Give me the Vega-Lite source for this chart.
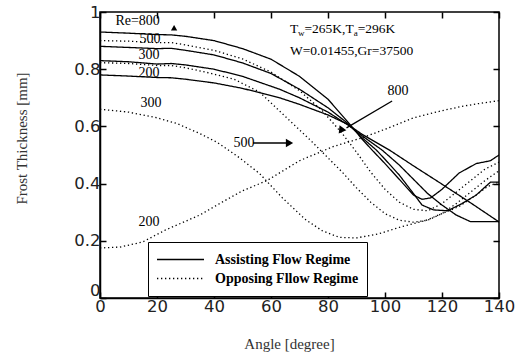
{
  "$schema": "https://vega.github.io/schema/vega-lite/v6.json",
  "width": 399,
  "height": 286,
  "autosize": {"type": "none"},
  "padding": {"left": 100, "top": 12, "right": 18, "bottom": 65},
  "background": "white",
  "config": {
    "view": {"stroke": "black", "strokeWidth": 1.5},
    "axis": {
      "grid": false,
      "domainColor": "black",
      "domainWidth": 1.5,
      "tickColor": "black",
      "tickWidth": 1.5,
      "tickSize": -6,
      "labelFont": "DejaVu Sans",
      "labelFontSize": 16.5,
      "labelColor": "#222",
      "titleFont": "Liberation Serif",
      "titleFontWeight": "normal",
      "titleFontSize": 15,
      "titleColor": "#333"
    }
  },
  "layer": [
    {
      "data": {
        "values": [
          {"regime": "Assisting Flow Regime", "re": 800, "x": 0, "y": 0.93},
          {"regime": "Assisting Flow Regime", "re": 800, "x": 10, "y": 0.926},
          {"regime": "Assisting Flow Regime", "re": 800, "x": 20, "y": 0.921},
          {"regime": "Assisting Flow Regime", "re": 800, "x": 25, "y": 0.92},
          {"regime": "Assisting Flow Regime", "re": 800, "x": 30, "y": 0.915},
          {"regime": "Assisting Flow Regime", "re": 800, "x": 40, "y": 0.9},
          {"regime": "Assisting Flow Regime", "re": 800, "x": 50, "y": 0.872},
          {"regime": "Assisting Flow Regime", "re": 800, "x": 60, "y": 0.835},
          {"regime": "Assisting Flow Regime", "re": 800, "x": 70, "y": 0.775},
          {"regime": "Assisting Flow Regime", "re": 800, "x": 80, "y": 0.695},
          {"regime": "Assisting Flow Regime", "re": 800, "x": 87, "y": 0.615},
          {"regime": "Assisting Flow Regime", "re": 800, "x": 92, "y": 0.555},
          {"regime": "Assisting Flow Regime", "re": 800, "x": 95.5, "y": 0.517},
          {"regime": "Assisting Flow Regime", "re": 800, "x": 100, "y": 0.47},
          {"regime": "Assisting Flow Regime", "re": 800, "x": 105, "y": 0.415},
          {"regime": "Assisting Flow Regime", "re": 800, "x": 110, "y": 0.36},
          {"regime": "Assisting Flow Regime", "re": 800, "x": 113, "y": 0.345},
          {"regime": "Assisting Flow Regime", "re": 800, "x": 116, "y": 0.35},
          {"regime": "Assisting Flow Regime", "re": 800, "x": 120, "y": 0.38},
          {"regime": "Assisting Flow Regime", "re": 800, "x": 126, "y": 0.437},
          {"regime": "Assisting Flow Regime", "re": 800, "x": 132, "y": 0.47},
          {"regime": "Assisting Flow Regime", "re": 800, "x": 137, "y": 0.48},
          {"regime": "Assisting Flow Regime", "re": 800, "x": 140, "y": 0.5},

          {"regime": "Assisting Flow Regime", "re": 500, "x": 0, "y": 0.88},
          {"regime": "Assisting Flow Regime", "re": 500, "x": 10, "y": 0.876},
          {"regime": "Assisting Flow Regime", "re": 500, "x": 20, "y": 0.872},
          {"regime": "Assisting Flow Regime", "re": 500, "x": 25, "y": 0.873},
          {"regime": "Assisting Flow Regime", "re": 500, "x": 30, "y": 0.866},
          {"regime": "Assisting Flow Regime", "re": 500, "x": 40, "y": 0.85},
          {"regime": "Assisting Flow Regime", "re": 500, "x": 50, "y": 0.822},
          {"regime": "Assisting Flow Regime", "re": 500, "x": 60, "y": 0.785},
          {"regime": "Assisting Flow Regime", "re": 500, "x": 70, "y": 0.73},
          {"regime": "Assisting Flow Regime", "re": 500, "x": 80, "y": 0.665},
          {"regime": "Assisting Flow Regime", "re": 500, "x": 87, "y": 0.61},
          {"regime": "Assisting Flow Regime", "re": 500, "x": 92, "y": 0.56},
          {"regime": "Assisting Flow Regime", "re": 500, "x": 97, "y": 0.517},
          {"regime": "Assisting Flow Regime", "re": 500, "x": 100, "y": 0.485},
          {"regime": "Assisting Flow Regime", "re": 500, "x": 105, "y": 0.43},
          {"regime": "Assisting Flow Regime", "re": 500, "x": 110, "y": 0.365},
          {"regime": "Assisting Flow Regime", "re": 500, "x": 113, "y": 0.325},
          {"regime": "Assisting Flow Regime", "re": 500, "x": 117, "y": 0.308},
          {"regime": "Assisting Flow Regime", "re": 500, "x": 122, "y": 0.305},
          {"regime": "Assisting Flow Regime", "re": 500, "x": 127, "y": 0.33},
          {"regime": "Assisting Flow Regime", "re": 500, "x": 132, "y": 0.36},
          {"regime": "Assisting Flow Regime", "re": 500, "x": 137, "y": 0.405},
          {"regime": "Assisting Flow Regime", "re": 500, "x": 140, "y": 0.405},

          {"regime": "Assisting Flow Regime", "re": 300, "x": 0, "y": 0.83},
          {"regime": "Assisting Flow Regime", "re": 300, "x": 10, "y": 0.826},
          {"regime": "Assisting Flow Regime", "re": 300, "x": 20, "y": 0.818},
          {"regime": "Assisting Flow Regime", "re": 300, "x": 25, "y": 0.82},
          {"regime": "Assisting Flow Regime", "re": 300, "x": 30, "y": 0.815},
          {"regime": "Assisting Flow Regime", "re": 300, "x": 40, "y": 0.8},
          {"regime": "Assisting Flow Regime", "re": 300, "x": 50, "y": 0.775},
          {"regime": "Assisting Flow Regime", "re": 300, "x": 63, "y": 0.73},
          {"regime": "Assisting Flow Regime", "re": 300, "x": 70, "y": 0.7},
          {"regime": "Assisting Flow Regime", "re": 300, "x": 80, "y": 0.65},
          {"regime": "Assisting Flow Regime", "re": 300, "x": 87, "y": 0.605},
          {"regime": "Assisting Flow Regime", "re": 300, "x": 92, "y": 0.567},
          {"regime": "Assisting Flow Regime", "re": 300, "x": 99, "y": 0.517},
          {"regime": "Assisting Flow Regime", "re": 300, "x": 105, "y": 0.465},
          {"regime": "Assisting Flow Regime", "re": 300, "x": 110, "y": 0.415},
          {"regime": "Assisting Flow Regime", "re": 300, "x": 115, "y": 0.365},
          {"regime": "Assisting Flow Regime", "re": 300, "x": 120, "y": 0.325},
          {"regime": "Assisting Flow Regime", "re": 300, "x": 125, "y": 0.29},
          {"regime": "Assisting Flow Regime", "re": 300, "x": 130, "y": 0.267},
          {"regime": "Assisting Flow Regime", "re": 300, "x": 140, "y": 0.267},

          {"regime": "Assisting Flow Regime", "re": 200, "x": 0, "y": 0.78},
          {"regime": "Assisting Flow Regime", "re": 200, "x": 10, "y": 0.776},
          {"regime": "Assisting Flow Regime", "re": 200, "x": 20, "y": 0.771},
          {"regime": "Assisting Flow Regime", "re": 200, "x": 25, "y": 0.77},
          {"regime": "Assisting Flow Regime", "re": 200, "x": 30, "y": 0.765},
          {"regime": "Assisting Flow Regime", "re": 200, "x": 40, "y": 0.752},
          {"regime": "Assisting Flow Regime", "re": 200, "x": 50, "y": 0.733},
          {"regime": "Assisting Flow Regime", "re": 200, "x": 63, "y": 0.7},
          {"regime": "Assisting Flow Regime", "re": 200, "x": 70, "y": 0.677},
          {"regime": "Assisting Flow Regime", "re": 200, "x": 80, "y": 0.64},
          {"regime": "Assisting Flow Regime", "re": 200, "x": 87, "y": 0.607},
          {"regime": "Assisting Flow Regime", "re": 200, "x": 92, "y": 0.572},
          {"regime": "Assisting Flow Regime", "re": 200, "x": 101.6, "y": 0.517},
          {"regime": "Assisting Flow Regime", "re": 200, "x": 110, "y": 0.462},
          {"regime": "Assisting Flow Regime", "re": 200, "x": 120, "y": 0.398},
          {"regime": "Assisting Flow Regime", "re": 200, "x": 130, "y": 0.333},
          {"regime": "Assisting Flow Regime", "re": 200, "x": 140, "y": 0.266},

          {"regime": "Opposing Fllow Regime", "re": 800, "x": 0, "y": 0.9},
          {"regime": "Opposing Fllow Regime", "re": 800, "x": 10, "y": 0.898},
          {"regime": "Opposing Fllow Regime", "re": 800, "x": 20, "y": 0.893},
          {"regime": "Opposing Fllow Regime", "re": 800, "x": 25, "y": 0.893},
          {"regime": "Opposing Fllow Regime", "re": 800, "x": 30, "y": 0.885},
          {"regime": "Opposing Fllow Regime", "re": 800, "x": 40, "y": 0.866},
          {"regime": "Opposing Fllow Regime", "re": 800, "x": 50, "y": 0.836},
          {"regime": "Opposing Fllow Regime", "re": 800, "x": 60, "y": 0.79},
          {"regime": "Opposing Fllow Regime", "re": 800, "x": 70, "y": 0.725},
          {"regime": "Opposing Fllow Regime", "re": 800, "x": 78, "y": 0.655},
          {"regime": "Opposing Fllow Regime", "re": 800, "x": 85, "y": 0.575},
          {"regime": "Opposing Fllow Regime", "re": 800, "x": 90, "y": 0.51},
          {"regime": "Opposing Fllow Regime", "re": 800, "x": 95, "y": 0.44},
          {"regime": "Opposing Fllow Regime", "re": 800, "x": 100, "y": 0.38},
          {"regime": "Opposing Fllow Regime", "re": 800, "x": 105, "y": 0.335},
          {"regime": "Opposing Fllow Regime", "re": 800, "x": 110, "y": 0.31},
          {"regime": "Opposing Fllow Regime", "re": 800, "x": 115, "y": 0.305},
          {"regime": "Opposing Fllow Regime", "re": 800, "x": 120, "y": 0.33},
          {"regime": "Opposing Fllow Regime", "re": 800, "x": 125, "y": 0.37},
          {"regime": "Opposing Fllow Regime", "re": 800, "x": 130, "y": 0.41},
          {"regime": "Opposing Fllow Regime", "re": 800, "x": 135, "y": 0.45},
          {"regime": "Opposing Fllow Regime", "re": 800, "x": 140, "y": 0.475},

          {"regime": "Opposing Fllow Regime", "re": 500, "x": 0, "y": 0.823},
          {"regime": "Opposing Fllow Regime", "re": 500, "x": 10, "y": 0.82},
          {"regime": "Opposing Fllow Regime", "re": 500, "x": 20, "y": 0.813},
          {"regime": "Opposing Fllow Regime", "re": 500, "x": 25, "y": 0.813},
          {"regime": "Opposing Fllow Regime", "re": 500, "x": 30, "y": 0.805},
          {"regime": "Opposing Fllow Regime", "re": 500, "x": 37, "y": 0.79},
          {"regime": "Opposing Fllow Regime", "re": 500, "x": 47, "y": 0.765},
          {"regime": "Opposing Fllow Regime", "re": 500, "x": 56, "y": 0.72},
          {"regime": "Opposing Fllow Regime", "re": 500, "x": 65, "y": 0.635},
          {"regime": "Opposing Fllow Regime", "re": 500, "x": 74, "y": 0.55},
          {"regime": "Opposing Fllow Regime", "re": 500, "x": 80, "y": 0.49},
          {"regime": "Opposing Fllow Regime", "re": 500, "x": 85, "y": 0.44},
          {"regime": "Opposing Fllow Regime", "re": 500, "x": 90, "y": 0.385},
          {"regime": "Opposing Fllow Regime", "re": 500, "x": 95, "y": 0.335},
          {"regime": "Opposing Fllow Regime", "re": 500, "x": 100, "y": 0.295},
          {"regime": "Opposing Fllow Regime", "re": 500, "x": 105, "y": 0.272},
          {"regime": "Opposing Fllow Regime", "re": 500, "x": 110, "y": 0.265},
          {"regime": "Opposing Fllow Regime", "re": 500, "x": 115, "y": 0.272},
          {"regime": "Opposing Fllow Regime", "re": 500, "x": 120, "y": 0.295},
          {"regime": "Opposing Fllow Regime", "re": 500, "x": 125, "y": 0.33},
          {"regime": "Opposing Fllow Regime", "re": 500, "x": 130, "y": 0.37},
          {"regime": "Opposing Fllow Regime", "re": 500, "x": 135, "y": 0.41},
          {"regime": "Opposing Fllow Regime", "re": 500, "x": 140, "y": 0.445},

          {"regime": "Opposing Fllow Regime", "re": 300, "x": 0, "y": 0.66},
          {"regime": "Opposing Fllow Regime", "re": 300, "x": 10, "y": 0.65},
          {"regime": "Opposing Fllow Regime", "re": 300, "x": 20, "y": 0.63},
          {"regime": "Opposing Fllow Regime", "re": 300, "x": 27, "y": 0.61},
          {"regime": "Opposing Fllow Regime", "re": 300, "x": 35, "y": 0.575},
          {"regime": "Opposing Fllow Regime", "re": 300, "x": 41, "y": 0.545},
          {"regime": "Opposing Fllow Regime", "re": 300, "x": 49, "y": 0.49},
          {"regime": "Opposing Fllow Regime", "re": 300, "x": 56, "y": 0.435},
          {"regime": "Opposing Fllow Regime", "re": 300, "x": 64, "y": 0.35},
          {"regime": "Opposing Fllow Regime", "re": 300, "x": 72, "y": 0.275},
          {"regime": "Opposing Fllow Regime", "re": 300, "x": 78, "y": 0.235},
          {"regime": "Opposing Fllow Regime", "re": 300, "x": 84, "y": 0.212},
          {"regime": "Opposing Fllow Regime", "re": 300, "x": 90, "y": 0.21},
          {"regime": "Opposing Fllow Regime", "re": 300, "x": 98, "y": 0.225},
          {"regime": "Opposing Fllow Regime", "re": 300, "x": 106, "y": 0.25},
          {"regime": "Opposing Fllow Regime", "re": 300, "x": 114, "y": 0.27},
          {"regime": "Opposing Fllow Regime", "re": 300, "x": 120, "y": 0.295},
          {"regime": "Opposing Fllow Regime", "re": 300, "x": 126, "y": 0.32},
          {"regime": "Opposing Fllow Regime", "re": 300, "x": 132, "y": 0.36},
          {"regime": "Opposing Fllow Regime", "re": 300, "x": 136, "y": 0.39},
          {"regime": "Opposing Fllow Regime", "re": 300, "x": 140, "y": 0.405},

          {"regime": "Opposing Fllow Regime", "re": 200, "x": 0, "y": 0.175},
          {"regime": "Opposing Fllow Regime", "re": 200, "x": 7, "y": 0.178},
          {"regime": "Opposing Fllow Regime", "re": 200, "x": 15, "y": 0.196},
          {"regime": "Opposing Fllow Regime", "re": 200, "x": 23, "y": 0.238},
          {"regime": "Opposing Fllow Regime", "re": 200, "x": 35, "y": 0.29},
          {"regime": "Opposing Fllow Regime", "re": 200, "x": 43, "y": 0.336},
          {"regime": "Opposing Fllow Regime", "re": 200, "x": 50, "y": 0.375},
          {"regime": "Opposing Fllow Regime", "re": 200, "x": 58.5, "y": 0.41},
          {"regime": "Opposing Fllow Regime", "re": 200, "x": 70, "y": 0.48},
          {"regime": "Opposing Fllow Regime", "re": 200, "x": 82, "y": 0.53},
          {"regime": "Opposing Fllow Regime", "re": 200, "x": 92, "y": 0.56},
          {"regime": "Opposing Fllow Regime", "re": 200, "x": 100, "y": 0.59},
          {"regime": "Opposing Fllow Regime", "re": 200, "x": 110, "y": 0.63},
          {"regime": "Opposing Fllow Regime", "re": 200, "x": 120, "y": 0.655},
          {"regime": "Opposing Fllow Regime", "re": 200, "x": 127, "y": 0.67},
          {"regime": "Opposing Fllow Regime", "re": 200, "x": 133, "y": 0.68},
          {"regime": "Opposing Fllow Regime", "re": 200, "x": 140, "y": 0.69}
        ]
      },
      "mark": {"type": "line", "stroke": "black", "strokeWidth": 1.3, "clip": true},
      "encoding": {
        "x": {
          "field": "x", "type": "quantitative",
          "scale": {"domain": [0, 140], "nice": false, "zero": false},
          "axis": {"orient": "bottom", "values": [0, 20, 40, 60, 80, 100, 120, 140], "title": "Angle [degree]", "labelPadding": 6, "titlePadding": 22, "labelFlush": false, "titleX": 189}
        },
        "y": {
          "field": "y", "type": "quantitative",
          "scale": {"domain": [0, 1], "nice": false},
          "axis": {
            "orient": "left", "values": [0, 0.2, 0.4, 0.6, 0.8, 1], "format": ".1~f",
            "title": "Frost Thickness [mm]", "labelPadding": 6, "titlePadding": 44, "titleY": 126,
            "labelBaseline": {"condition": {"test": "datum.value == 0", "value": "bottom"}, "value": "middle"}
          }
        },
        "detail": {"field": "re", "type": "nominal"},
        "strokeDash": {
          "field": "regime", "type": "nominal",
          "scale": {"domain": ["Assisting Flow Regime", "Opposing Fllow Regime"], "range": [[1, 0], [1.3, 2.7]]},
          "legend": {
            "orient": "none", "legendX": 48, "legendY": 230, "title": null,
            "fillColor": "white", "strokeColor": "black", "padding": 8,
            "symbolType": "stroke", "symbolSize": 2209, "clipHeight": 19,
            "symbolStrokeWidth": 1.5, "symbolStrokeColor": "black",
            "labelFont": "Liberation Serif", "labelFontSize": 14, "labelFontWeight": "bold",
            "labelColor": "black", "labelOffset": 10, "rowPadding": 0
          }
        },
        "order": {"field": "x", "type": "quantitative"}
      }
    },
    {
      "data": {
        "values": [
          {"t": "Re=800", "x": 13.2, "y": 0.968},
          {"t": "500", "x": 17.5, "y": 0.906},
          {"t": "300", "x": 17.2, "y": 0.85},
          {"t": "200", "x": 17.2, "y": 0.787},
          {"t": "300", "x": 17.9, "y": 0.682},
          {"t": "200", "x": 17.2, "y": 0.266},
          {"t": "500", "x": 50.5, "y": 0.542},
          {"t": "800", "x": 104.6, "y": 0.724}
        ]
      },
      "mark": {"type": "text", "font": "Liberation Serif", "fontSize": 14, "color": "black", "align": "center", "baseline": "middle"},
      "encoding": {
        "x": {"field": "x", "type": "quantitative", "axis": null},
        "y": {"field": "y", "type": "quantitative", "axis": null},
        "text": {"field": "t"}
      }
    },
    {
      "data": {
        "values": [
          {"t": "T", "x": 66.67, "y": 0.9266},
          {"t": "=265K,T", "x": 71.75, "y": 0.9266},
          {"t": "=296K", "x": 90.4, "y": 0.9266},
          {"t": "W=0.01455,Gr=37500", "x": 66.67, "y": 0.85}
        ]
      },
      "mark": {"type": "text", "font": "Liberation Serif", "fontSize": 13.5, "color": "black", "align": "left", "baseline": "alphabetic"},
      "encoding": {
        "x": {"field": "x", "type": "quantitative", "axis": null},
        "y": {"field": "y", "type": "quantitative", "axis": null},
        "text": {"field": "t"}
      }
    },
    {
      "data": {
        "values": [
          {"t": "w", "x": 69.47, "y": 0.915},
          {"t": "a", "x": 89.0, "y": 0.915}
        ]
      },
      "mark": {"type": "text", "font": "Liberation Serif", "fontSize": 9, "color": "black", "align": "left", "baseline": "alphabetic"},
      "encoding": {
        "x": {"field": "x", "type": "quantitative", "axis": null},
        "y": {"field": "y", "type": "quantitative", "axis": null},
        "text": {"field": "t"}
      }
    },
    {
      "data": {
        "values": [
          {"x": 53.7, "y": 0.542, "x2": 65.5, "y2": 0.542},
          {"x": 102.5, "y": 0.689, "x2": 86.5, "y2": 0.595}
        ]
      },
      "mark": {"type": "rule", "stroke": "black", "strokeWidth": 1.3},
      "encoding": {
        "x": {"field": "x", "type": "quantitative", "axis": {"orient": "top", "labels": false, "title": null, "values": [0, 20, 40, 60, 80, 100, 120, 140], "domain": false}},
        "y": {"field": "y", "type": "quantitative", "axis": {"orient": "right", "labels": false, "title": null, "values": [0, 0.2, 0.4, 0.6, 0.8, 1], "domain": false}},
        "x2": {"field": "x2"},
        "y2": {"field": "y2"}
      }
    },
    {
      "data": {"values": [{"x": 66.5, "y": 0.542}]},
      "mark": {"type": "point", "shape": "triangle-up", "angle": 90, "filled": true, "color": "black", "size": 70, "opacity": 1},
      "encoding": {
        "x": {"field": "x", "type": "quantitative", "axis": null},
        "y": {"field": "y", "type": "quantitative", "axis": null}
      }
    },
    {
      "data": {"values": [{"x": 84.5, "y": 0.585}]},
      "mark": {"type": "point", "shape": "triangle-up", "angle": 216, "filled": true, "color": "black", "size": 70, "opacity": 1},
      "encoding": {
        "x": {"field": "x", "type": "quantitative", "axis": null},
        "y": {"field": "y", "type": "quantitative", "axis": null}
      }
    },
    {
      "data": {"values": [{"x": 26, "y": 0.945}]},
      "mark": {"type": "point", "shape": "triangle-up", "filled": true, "color": "black", "size": 40, "opacity": 1},
      "encoding": {
        "x": {"field": "x", "type": "quantitative", "axis": null},
        "y": {"field": "y", "type": "quantitative", "axis": null}
      }
    }
  ],
  "resolve": {"axis": {"x": "independent", "y": "independent"}}
}
